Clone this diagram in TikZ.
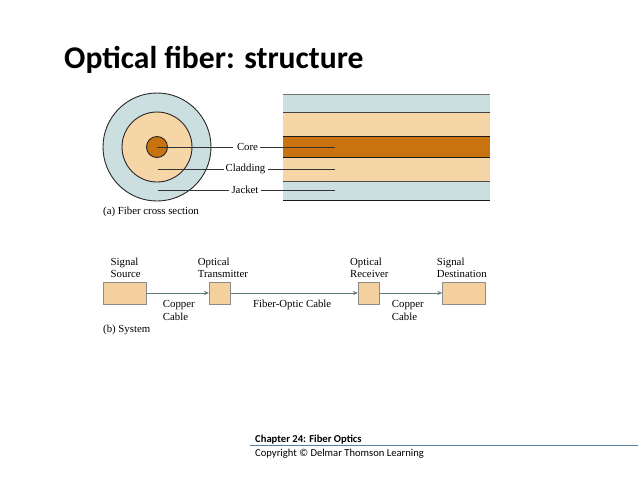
\documentclass[tikz,border=0pt]{standalone}
\usepackage{fontspec}
\setmainfont{Liberation Serif}
\newfontfamily\calib{Carlito}
\usetikzlibrary{arrows.meta}
\definecolor{jacketc}{HTML}{CCDFE0}
\definecolor{cladc}{HTML}{F6D6A6}
\definecolor{corec}{HTML}{C8730F}
\definecolor{boxc}{HTML}{F4D09E}
\definecolor{wirec}{HTML}{5E7C78}
\definecolor{footc}{HTML}{5B7F9E}
\tikzset{
  lbl/.style={font=\fontsize{10.8}{12.3}\selectfont, inner sep=0pt, text=black},
  sublbl/.style={lbl, align=left, anchor=west},
  leader/.style={draw=black!80, line width=0.8pt},
  sysbox/.style={draw=black!45, line width=0.6pt, fill=boxc, minimum height=22pt, inner sep=0pt},
  wire/.style={draw=wirec, line width=0.9pt, -{Stealth[length=5pt,width=4pt]}},
}
\begin{document}
\begin{tikzpicture}[x=1pt,y=-1pt]
\useasboundingbox (0,0) rectangle (638,479);
\fill[white] (0,0) rectangle (638,479);

% title
\node[anchor=base west, inner sep=0pt, font=\calib\bfseries\fontsize{31.6}{36}\selectfont] (title) at (64,68) {Optical fiber: structure};

% cross section
\node[circle, draw=black!85, line width=0.9pt, fill=jacketc, minimum size=108pt, inner sep=0pt] (jacket) at (157,147) {};
\node[circle, draw=black!85, line width=0.9pt, fill=cladc, minimum size=70pt, inner sep=0pt] (clad) at (157,147) {};
\node[circle, draw=black!85, line width=0.9pt, fill=corec, minimum size=21pt, inner sep=0pt] (core) at (157,147) {};
\coordinate (cladpt) at (158,169);
\coordinate (jackpt) at (158,190);

% longitudinal view
\fill[jacketc] (283.3,94) rectangle (490,112.3);
\fill[cladc] (283.3,112.3) rectangle (490,136.3);
\fill[corec] (283.3,136.3) rectangle (490,157);
\fill[cladc] (283.3,157) rectangle (490,181.3);
\fill[jacketc] (283.3,181.3) rectangle (490,200.7);
\draw[black!55, line width=1pt] (283.3,94) -- (490,94);
\draw[black!75, line width=0.8pt] (283.3,112.3) -- (490,112.3);
\draw[black!90, line width=1pt] (283.3,136.3) -- (490,136.3);
\draw[black!90, line width=1pt] (283.3,157) -- (490,157);
\draw[black!70, line width=0.8pt] (283.3,181.3) -- (490,181.3);
\draw[black!90, line width=1pt] (283.3,200.7) -- (490,200.7);

% labels with leader lines
\node[lbl] (lcore) at (247.5,147) {Core};
\node[lbl] (lclad) at (245.5,169) {Cladding};
\node[lbl] (ljack) at (245,190) {Jacket};
\coordinate (ecore) at (335,147);
\coordinate (eclad) at (335,169);
\coordinate (ejack) at (335,190);
\draw[leader] (core.center) -- ([xshift=-4pt]lcore.west);
\draw[leader] ([xshift=2pt]lcore.east) -- (ecore);
\draw[leader] (cladpt) -- ([xshift=-2pt]lclad.west);
\draw[leader] ([xshift=2pt]lclad.east) -- (eclad);
\draw[leader] (jackpt) -- ([xshift=-2pt]ljack.west);
\draw[leader] ([xshift=2pt]ljack.east) -- (ejack);

\node[sublbl] (capa) at (103,212) {(a) Fiber cross section};

% system
\node[sysbox, minimum width=42.7pt] (src) at (124.7,293) {};
\node[sysbox, minimum width=21.4pt] (tx) at (220,293) {};
\node[sysbox, minimum width=21pt] (rx) at (368.8,293) {};
\node[sysbox, minimum width=42.3pt] (dst) at (463.8,293) {};
\draw[wire] (src.east) -- (tx.west);
\draw[wire] (tx.east) -- (rx.west);
\draw[wire] (rx.east) -- (dst.west);

\node[sublbl] (tsrc) at (110.5,268) {Signal\\Source};
\node[sublbl] (ttx) at (197.7,268) {Optical\\Transmitter};
\node[sublbl] (trx) at (350,268) {Optical\\Receiver};
\node[sublbl] (tdst) at (436.7,268) {Signal\\Destination};

\node[sublbl] (c1) at (162.7,310.5) {Copper\\Cable};
\node[sublbl] (fo) at (253,304.5) {Fiber-Optic Cable};
\node[sublbl] (c2) at (391.7,310.5) {Copper\\Cable};
\node[sublbl] (capb) at (103,330) {(b) System};

% footer
\coordinate (fl) at (250,445);
\coordinate (fr) at (638,445);
\draw[footc, line width=1pt] (fl) -- (fr);
\node[anchor=base west, inner sep=0pt, font=\calib\bfseries\fontsize{10.6}{12}\selectfont] (chap) at (255,442) {Chapter 24: Fiber Optics};
\node[anchor=base west, inner sep=0pt, font=\calib\fontsize{10.6}{12}\selectfont] (copy) at (255,456) {Copyright © Delmar Thomson Learning};
\end{tikzpicture}
\end{document}
